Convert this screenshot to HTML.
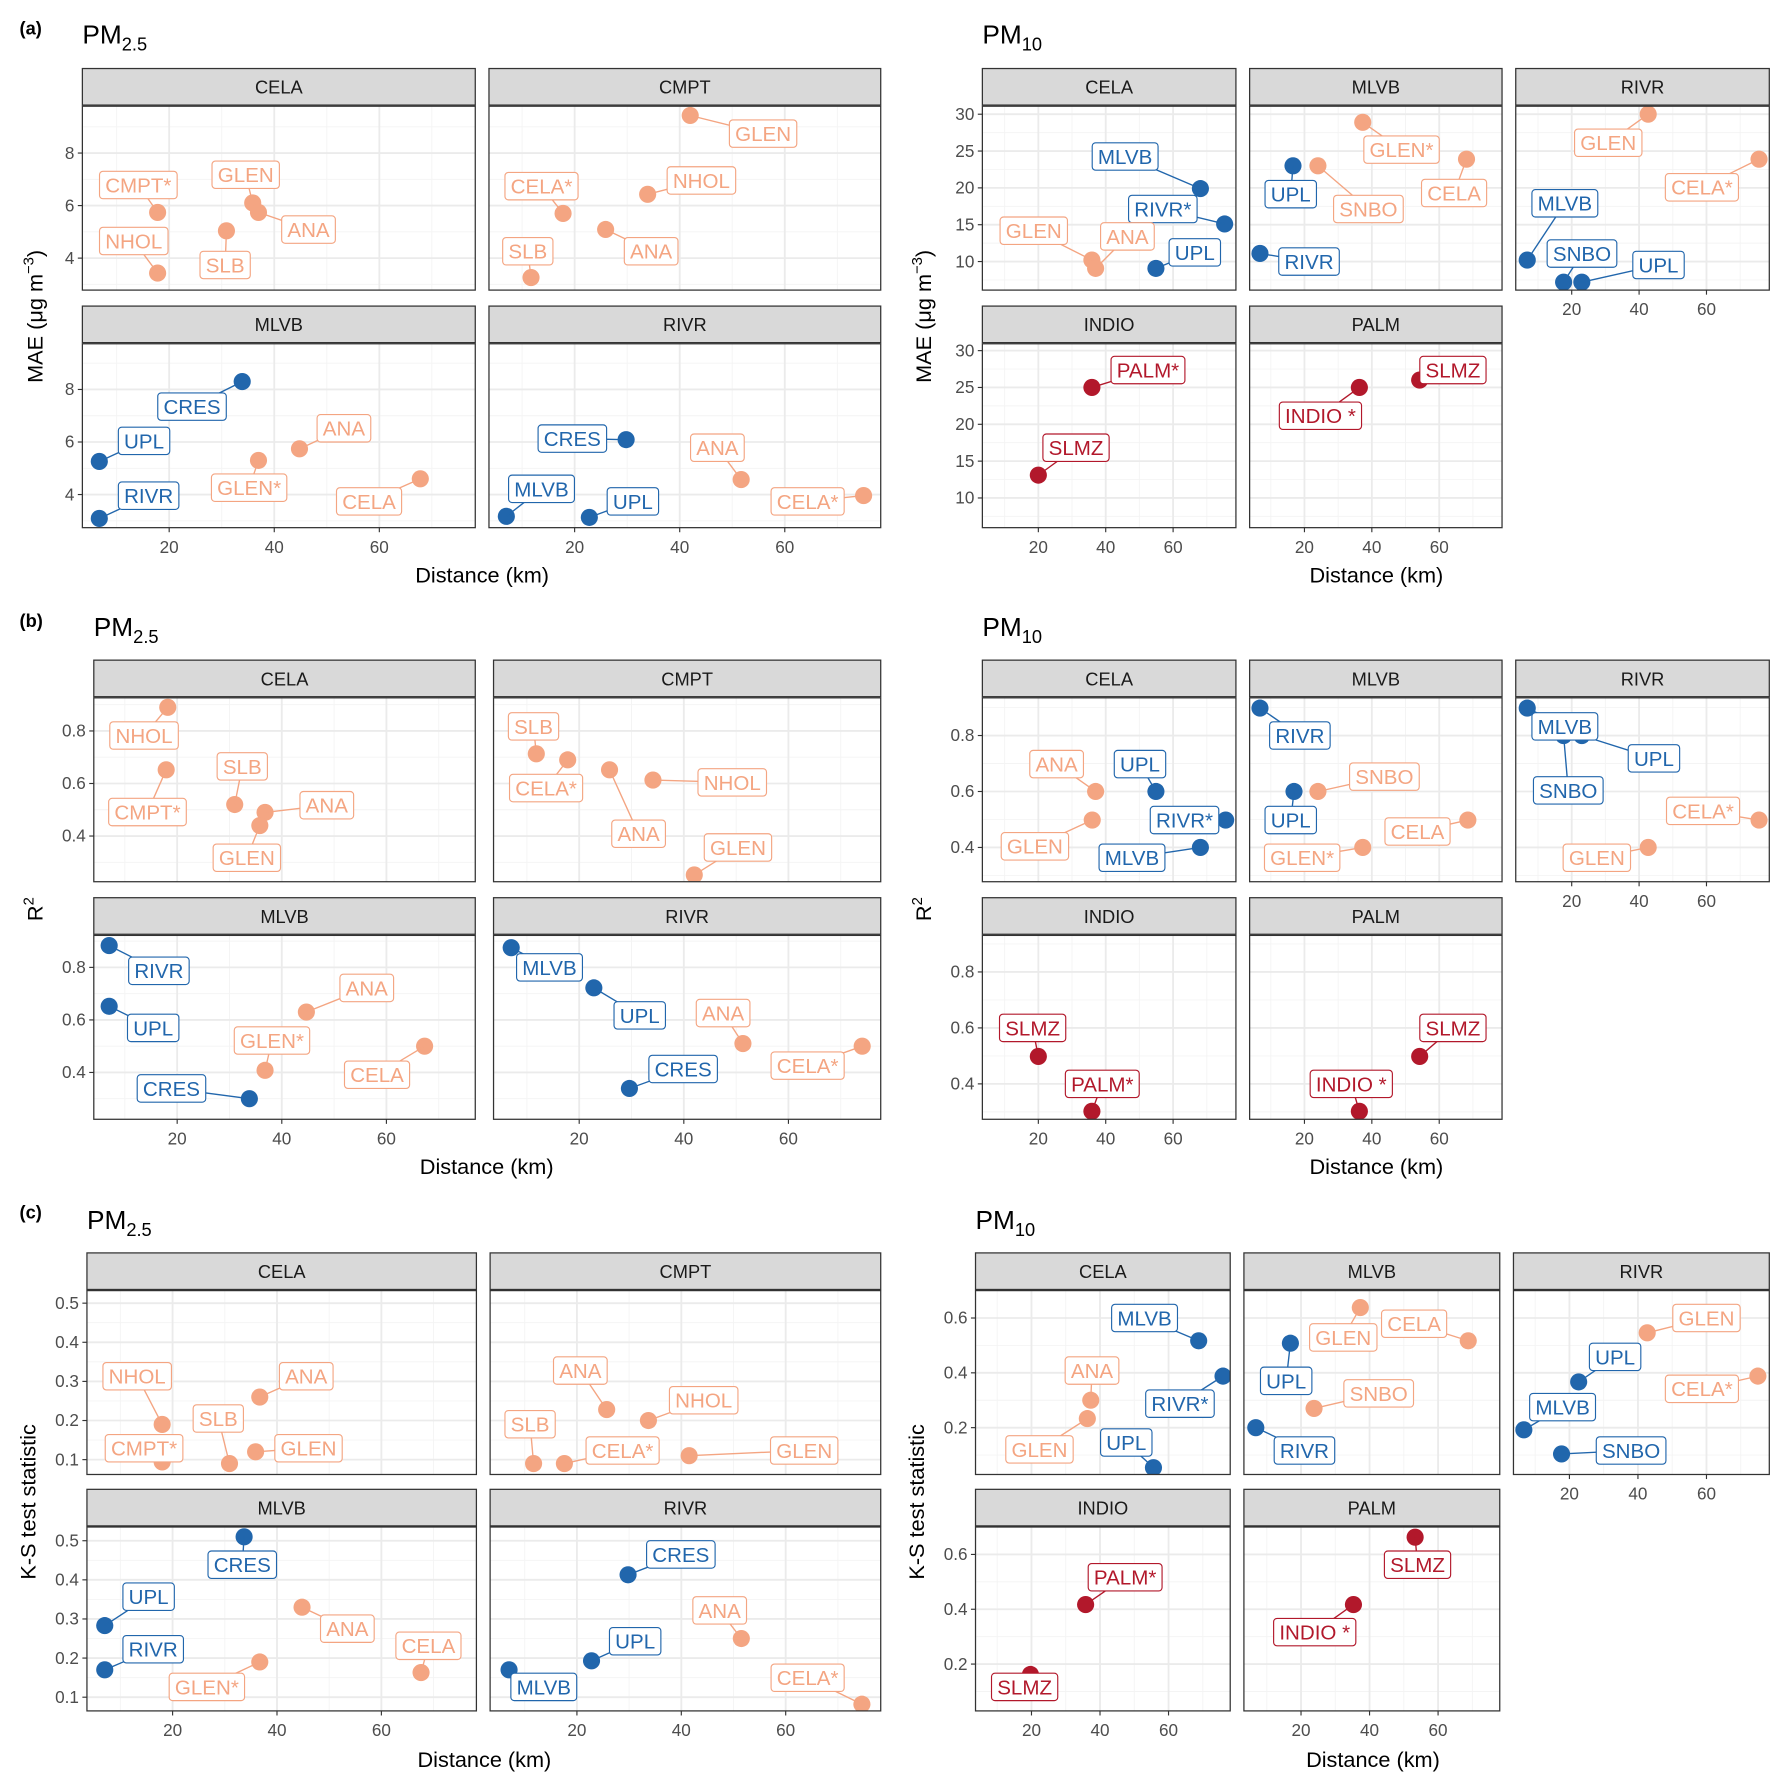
<!DOCTYPE html>
<html><head><meta charset="utf-8">
<style>
html,body{margin:0;padding:0;background:#fff;}
svg{display:block;font-family:"Liberation Sans",Arial,sans-serif;}
</style></head>
<body>
<svg id="fig" width="1782" height="1784" viewBox="0 0 1560 1562" xmlns="http://www.w3.org/2000/svg"></svg>
<script>
// ---------- DATA ----------
// (a) MAE PM2.5
const a25_site=['CELA','CELA','CELA','CELA','CELA','CMPT','CMPT','CMPT','CMPT','CMPT','MLVB','MLVB','MLVB','MLVB','MLVB','MLVB','RIVR','RIVR','RIVR','RIVR','RIVR'];
const a25_name=['CMPT*','NHOL','GLEN','ANA','SLB','GLEN','NHOL','CELA*','ANA','SLB','CRES','UPL','RIVR','ANA','GLEN*','CELA','CRES','ANA','CELA*','MLVB','UPL'];
const a25_dist=[17.8,17.8,35.9,37,30.9,42,33.9,17.8,25.9,11.7,33.9,6.7,6.7,44.8,37,67.8,29.8,51.7,75,7,22.8];
const a25_val=[5.74,3.43,6.1,5.74,5.04,9.43,6.43,5.7,5.09,3.26,8.3,5.26,3.09,5.74,5.3,4.6,6.09,4.57,3.96,3.17,3.13];
const a25_grp=['o','o','o','o','o','o','o','o','o','o','b','b','b','o','o','o','b','o','o','b','b'];
const a25_lx=[121,117,215,270,197,668,614,474,570,462,168,126,130,301,218,323,501,628,707,474,554];
const a25_ly=[162,211,153,201,232,117,158,163,220,220,356,386,434,375,427,439,384,392,439,428,439];
// (a) MAE PM10
const a10_site=['CELA','CELA','CELA','CELA','CELA','MLVB','MLVB','MLVB','MLVB','MLVB','RIVR','RIVR','RIVR','RIVR','RIVR','INDIO','INDIO','PALM','PALM'];
const a10_name=['MLVB','RIVR*','UPL','GLEN','ANA','GLEN*','CELA','UPL','SNBO','RIVR','GLEN','CELA*','MLVB','SNBO','UPL','PALM*','SLMZ','SLMZ','INDIO *'];
const a10_dist=[68.1,75.3,54.9,35.9,37,37.3,68.1,16.6,24,6.8,42.7,75.6,6.8,17.6,23,35.9,20,54.2,36.3];
const a10_val=[19.9,15.1,9.07,10.2,9.07,28.9,23.9,23,23,11.1,30,23.9,10.2,7.2,7.2,25,13.1,26,25];
const a10_grp=['b','b','b','o','o','o','o','b','o','b','o','o','b','b','b','r','r','r','r'];
const a10_lx=[985,1018,1046,905,987,1227,1273,1130,1198,1146,1408,1490,1370,1385,1452,1005,942,1272,1156];
const a10_ly=[137,183,221,202,207,131,169,170,183,229,125,164,178,222,232,324,392,324,364];
// (b) R2 PM2.5
const b25_site=['CELA','CELA','CELA','CELA','CELA','CMPT','CMPT','CMPT','CMPT','CMPT','MLVB','MLVB','MLVB','MLVB','MLVB','MLVB','RIVR','RIVR','RIVR','RIVR','RIVR'];
const b25_name=['NHOL','CMPT*','SLB','ANA','GLEN','SLB','CELA*','ANA','NHOL','GLEN','RIVR','UPL','ANA','GLEN*','CELA','CRES','MLVB','UPL','ANA','CELA*','CRES'];
const b25_dist=[18.2,17.9,31,36.8,35.8,11.8,17.8,25.8,34.1,42,7,7,44.7,36.8,67.3,33.8,7,22.8,51.3,74.1,29.6];
const b25_val=[0.89,0.652,0.52,0.49,0.44,0.713,0.69,0.652,0.613,0.252,0.883,0.652,0.63,0.408,0.5,0.3,0.875,0.722,0.51,0.5,0.339];
const b25_grp=['o','o','o','o','o','o','o','o','o','o','b','b','o','o','o','b','b','b','o','o','b'];
const b25_lx=[126,129,212,286,216,467,478,559,641,646,139,134,321,238,330,150,481,560,633,707,598];
const b25_ly=[644,711,671,705,751,636,690,730,685,742,850,900,865,911,941,953,847,889,887,933,936];
// (b) R2 PM10
const b10_site=['CELA','CELA','CELA','CELA','CELA','MLVB','MLVB','MLVB','MLVB','MLVB','RIVR','RIVR','RIVR','RIVR','RIVR','INDIO','INDIO','PALM','PALM'];
const b10_name=['ANA','GLEN','UPL','RIVR*','MLVB','RIVR','UPL','SNBO','CELA','GLEN*','MLVB','SNBO','UPL','CELA*','GLEN','SLMZ','PALM*','SLMZ','INDIO *'];
const b10_dist=[37,36,54.9,75.6,68.1,6.8,16.9,24,68.5,37.3,6.8,17.6,23,75.6,42.7,20,35.9,54.2,36.3];
const b10_val=[0.6,0.498,0.6,0.498,0.4,0.898,0.6,0.6,0.498,0.4,0.898,0.8,0.8,0.498,0.4,0.498,0.302,0.498,0.302];
const b10_grp=['o','o','b','b','b','b','b','o','o','o','b','b','b','o','o','r','r','r','r'];
const b10_lx=[925,906,998,1037,991,1138,1130,1212,1241,1140,1370,1373,1448,1491,1398,904,965,1272,1183];
const b10_ly=[669,741,669,718,751,644,718,680,728,751,636,692,664,710,751,900,949,900,949];
// (c) K-S PM2.5
const c25_site=['CELA','CELA','CELA','CELA','CELA','CMPT','CMPT','CMPT','CMPT','CMPT','MLVB','MLVB','MLVB','MLVB','MLVB','MLVB','RIVR','RIVR','RIVR','RIVR','RIVR'];
const c25_name=['NHOL','CMPT*','ANA','SLB','GLEN','ANA','NHOL','SLB','CELA*','GLEN','CRES','UPL','RIVR','ANA','GLEN*','CELA','CRES','ANA','UPL','MLVB','CELA*'];
const c25_dist=[18,18,36.7,30.9,35.9,25.7,33.7,11.7,17.6,41.5,33.7,7,7,44.8,36.7,67.6,29.8,51.5,22.8,7,74.6];
const c25_val=[0.19,0.094,0.26,0.09,0.12,0.228,0.2,0.09,0.09,0.11,0.51,0.283,0.17,0.33,0.19,0.163,0.413,0.25,0.193,0.17,0.082];
const c25_grp=['o','o','o','o','o','o','o','o','o','o','b','b','b','o','o','o','b','o','b','b','o'];
const c25_lx=[120,126,268,191,270,508,616,464,545,704,212,130,134,304,181,375,596,630,556,476,707];
const c25_ly=[1205,1268,1205,1242,1268,1200,1226,1247,1270,1270,1370,1398,1444,1426,1477,1441,1361,1410,1437,1477,1469];
// (c) K-S PM10
const c10_site=['CELA','CELA','CELA','CELA','CELA','MLVB','MLVB','MLVB','MLVB','MLVB','RIVR','RIVR','RIVR','RIVR','RIVR','INDIO','INDIO','PALM','PALM'];
const c10_name=['MLVB','RIVR*','ANA','GLEN','UPL','GLEN','CELA','UPL','SNBO','RIVR','GLEN','CELA*','UPL','MLVB','SNBO','PALM*','SLMZ','SLMZ','INDIO *'];
const c10_dist=[68.8,75.9,37.3,36.3,55.6,37.3,68.8,16.9,23.8,6.8,42.7,75,22.7,6.7,17.7,35.8,19.7,53.3,35.3];
const c10_val=[0.517,0.388,0.3,0.233,0.054,0.638,0.517,0.508,0.27,0.2,0.546,0.388,0.367,0.192,0.104,0.417,0.162,0.663,0.417];
const c10_grp=['b','b','o','o','b','o','o','b','o','b','o','o','b','b','b','r','r','r','r'];
const c10_lx=[1002,1033,956,910,986,1176,1238,1126,1207,1142,1494,1490,1414,1368,1428,985,897,1241,1151];
const c10_ly=[1154,1229,1200,1269,1263,1171,1159,1209,1220,1270,1154,1216,1188,1232,1270,1381,1477,1370,1429];

// Tick labels
const ticksMAE25=[4,6,8];
const ticksMAE10=[10,15,20,25,30];
const ticksR2=[0.4,0.6,0.8];
const ticksKS25=[0.1,0.2,0.3,0.4,0.5];
const ticksKS10=[0.2,0.4,0.6];
const ticksX=[20,40,60];

// ---------- DRAW ----------
const NS='http://www.w3.org/2000/svg';
const svg=document.getElementById('fig');
const COL={o:'#f4a582',b:'#2166ac',r:'#b2182b'};
function mk(tag,attrs,parent){const e=document.createElementNS(NS,tag);for(const k in attrs)e.setAttribute(k,attrs[k]);(parent||svg).appendChild(e);return e;}

const blocks=[
 {id:'a25',site:a25_site,name:a25_name,dist:a25_dist,val:a25_val,grp:a25_grp,lx:a25_lx,ly:a25_ly,yt:ticksMAE25,
  panels:{CELA:[0,0],CMPT:[0,1],MLVB:[1,0],RIVR:[1,1]},LR:[[72,416],[428,771]],x20:[148,503],xs:4.6,S:[60,268],y0:318,ys:23,off:207,xTickRow0:[]},
 {id:'a10',site:a10_site,name:a10_name,dist:a10_dist,val:a10_val,grp:a10_grp,lx:a10_lx,ly:a10_ly,yt:ticksMAE10,
  panels:{CELA:[0,0],MLVB:[0,1],RIVR:[0,2],INDIO:[1,0],PALM:[1,1]},LR:[[860,1082],[1094,1315],[1327,1549]],x20:[909,1142,1376],xs:2.95,S:[60,268],y0:293.5,ys:6.45,off:207,xTickRow0:[2]},
 {id:'b25',site:b25_site,name:b25_name,dist:b25_dist,val:b25_val,grp:b25_grp,lx:b25_lx,ly:b25_ly,yt:ticksR2,
  panels:{CELA:[0,0],CMPT:[0,1],MLVB:[1,0],RIVR:[1,1]},LR:[[82,416],[432,771]],x20:[155,507],xs:4.58,S:[578,786],y0:824,ys:230,off:207,xTickRow0:[]},
 {id:'b10',site:b10_site,name:b10_name,dist:b10_dist,val:b10_val,grp:b10_grp,lx:b10_lx,ly:b10_ly,yt:ticksR2,
  panels:{CELA:[0,0],MLVB:[0,1],RIVR:[0,2],INDIO:[1,0],PALM:[1,1]},LR:[[860,1082],[1094,1315],[1327,1549]],x20:[909,1142,1376],xs:2.95,S:[578,786],y0:840,ys:245,off:207,xTickRow0:[2]},
 {id:'c25',site:c25_site,name:c25_name,dist:c25_dist,val:c25_val,grp:c25_grp,lx:c25_lx,ly:c25_ly,yt:ticksKS25,
  panels:{CELA:[0,0],CMPT:[0,1],MLVB:[1,0],RIVR:[1,1]},LR:[[76,417],[429,771]],x20:[151,505],xs:4.57,S:[1097,1304],y0:1312.25,ys:342.5,off:208,xTickRow0:[]},
 {id:'c10',site:c10_site,name:c10_name,dist:c10_dist,val:c10_val,grp:c10_grp,lx:c10_lx,ly:c10_ly,yt:ticksKS10,
  panels:{CELA:[0,0],MLVB:[0,1],RIVR:[0,2],INDIO:[1,0],PALM:[1,1]},LR:[[854,1077],[1089,1313],[1325,1549]],x20:[903,1139,1374],xs:3.0,S:[1097,1304],y0:1298,ys:240,off:207,xTickRow0:[2]}
];

function fmt(v){return (Math.round(v*100)/100).toString();}

blocks.forEach(B=>{
  const g=mk('g',{});
  
  
  Object.keys(B.panels).forEach(site=>{
    const [row,col]=B.panels[site];
    const L=B.LR[col][0],R=B.LR[col][1];
    const S=B.S[row],T=S+33,Bt=S+194;
    const xp=v=>B.x20[col]+(v-20)*B.xs;
    const yp=v=>B.y0+row*B.off-v*B.ys;
    const pg=mk('g',{},g);
    
    
    mk('rect',{x:L,y:T,width:R-L,height:Bt-T,fill:'#fff'},pg);
    const cp='cp-'+B.id+'-'+site;
    const cl=mk('clipPath',{id:cp},pg);mk('rect',{x:L,y:T,width:R-L,height:Bt-T},cl);
    const gg=mk('g',{'clip-path':'url(#'+cp+')'},pg);
    // grid
    [10,30,50,70].forEach(v=>mk('line',{x1:xp(v),x2:xp(v),y1:T,y2:Bt,stroke:'#f4f4f4','stroke-width':0.8},gg));
    const st=B.yt[1]-B.yt[0];
    for(let i=-1;i<B.yt.length;i++){const v=B.yt[0]+st*(i+0.5);mk('line',{x1:L,x2:R,y1:yp(v),y2:yp(v),stroke:'#f4f4f4','stroke-width':0.8},gg);}
    ticksX.forEach(v=>mk('line',{x1:xp(v),x2:xp(v),y1:T,y2:Bt,stroke:'#ebebeb','stroke-width':1.6},gg));
    B.yt.forEach(v=>mk('line',{x1:L,x2:R,y1:yp(v),y2:yp(v),stroke:'#ebebeb','stroke-width':1.6},gg));
    // points
    const idx=[];B.site.forEach((s,i)=>{if(s===site)idx.push(i);});
    idx.forEach(i=>{
      const px=xp(B.dist[i]),py=yp(B.val[i]);
      const sg=mk('line',{x1:px,y1:py,x2:B.lx[i],y2:B.ly[i],stroke:COL[B.grp[i]],'stroke-width':1.2},pg);
      
      
    });
    idx.forEach(i=>{
      const c=mk('circle',{cx:xp(B.dist[i]),cy:yp(B.val[i]),r:7.5,fill:COL[B.grp[i]]},gg);
      
      
    });
    idx.forEach(i=>{
      const lg=mk('g',{},pg);
      
      
      const bx=mk('rect',{rx:3,ry:3,fill:'#fff',stroke:COL[B.grp[i]],'stroke-width':1},lg);
      const t=mk('text',{x:B.lx[i],y:B.ly[i]+6.5,'text-anchor':'middle','font-size':18,fill:COL[B.grp[i]]},lg);
      t.textContent=B.name[i];
      const w=t.getComputedTextLength()+10;
      bx.setAttribute('x',B.lx[i]-w/2);bx.setAttribute('y',B.ly[i]-12);bx.setAttribute('width',w);bx.setAttribute('height',24);
    });
    mk('rect',{x:L,y:T,width:R-L,height:Bt-T,fill:'none',stroke:'#333','stroke-width':1.1},pg);
    // strip
    const sr=mk('rect',{x:L,y:S,width:R-L,height:32,fill:'#d9d9d9',stroke:'#333','stroke-width':1.1},pg);
    
    
    const stx=mk('text',{x:(L+R)/2,y:S+22,'text-anchor':'middle','font-size':16,fill:'#1a1a1a'},pg);
    stx.textContent=site;
    // y ticks on first column
    if(col===0){
      B.yt.forEach(v=>{
        mk('line',{x1:L-4,x2:L,y1:yp(v),y2:yp(v),stroke:'#333','stroke-width':1},pg);
        const tt=mk('text',{x:L-7,y:yp(v)+5,'text-anchor':'end','font-size':15,fill:'#4d4d4d'},pg);
        tt.textContent=fmt(v);
      });
    }
    // x ticks
    if(row===1||B.xTickRow0.indexOf(col)>=0){
      ticksX.forEach(v=>{
        mk('line',{x1:xp(v),x2:xp(v),y1:Bt,y2:Bt+4,stroke:'#333','stroke-width':1},pg);
        const tt=mk('text',{x:xp(v),y:Bt+22,'text-anchor':'middle','font-size':15,fill:'#4d4d4d'},pg);
        tt.textContent=v;
      });
    }
  });
});
</script>
<svg width="1782" height="1784" viewBox="0 0 1560 1562" style="position:absolute;left:0;top:0" xmlns="http://www.w3.org/2000/svg" font-family="Liberation Sans, Arial, sans-serif">
  <g font-weight="bold" font-size="16">
    <text x="17" y="30">(a)</text><text x="17" y="549">(b)</text><text x="17" y="1067">(c)</text>
  </g>
  <g font-size="23" fill="#000">
    <text x="72" y="38">PM<tspan font-size="16" dy="6">2.5</tspan></text>
    <text x="860" y="38">PM<tspan font-size="16" dy="6">10</tspan></text>
    <text x="82" y="557">PM<tspan font-size="16" dy="6">2.5</tspan></text>
    <text x="860" y="557">PM<tspan font-size="16" dy="6">10</tspan></text>
    <text x="76" y="1076">PM<tspan font-size="16" dy="6">2.5</tspan></text>
    <text x="854" y="1076">PM<tspan font-size="16" dy="6">10</tspan></text>
  </g>
  <g font-size="19" text-anchor="middle">
    <text x="422" y="510">Distance (km)</text><text x="1205" y="510">Distance (km)</text>
    <text x="426" y="1028">Distance (km)</text><text x="1205" y="1028">Distance (km)</text>
    <text x="424" y="1547">Distance (km)</text><text x="1202" y="1547">Distance (km)</text>
  </g>
  <g font-size="19" text-anchor="middle">
    <text transform="translate(37,277) rotate(-90)">MAE (μg m<tspan font-size="13" dy="-8">−3</tspan><tspan dy="8">)</tspan></text>
    <text transform="translate(815,277) rotate(-90)">MAE (μg m<tspan font-size="13" dy="-8">−3</tspan><tspan dy="8">)</tspan></text>
    <text transform="translate(37,796) rotate(-90)">R<tspan font-size="13" dy="-8">2</tspan></text>
    <text transform="translate(815,796) rotate(-90)">R<tspan font-size="13" dy="-8">2</tspan></text>
    <text transform="translate(31,1315) rotate(-90)">K-S test statistic</text>
    <text transform="translate(809,1315) rotate(-90)">K-S test statistic</text>
  </g>
</svg>
</body></html>
